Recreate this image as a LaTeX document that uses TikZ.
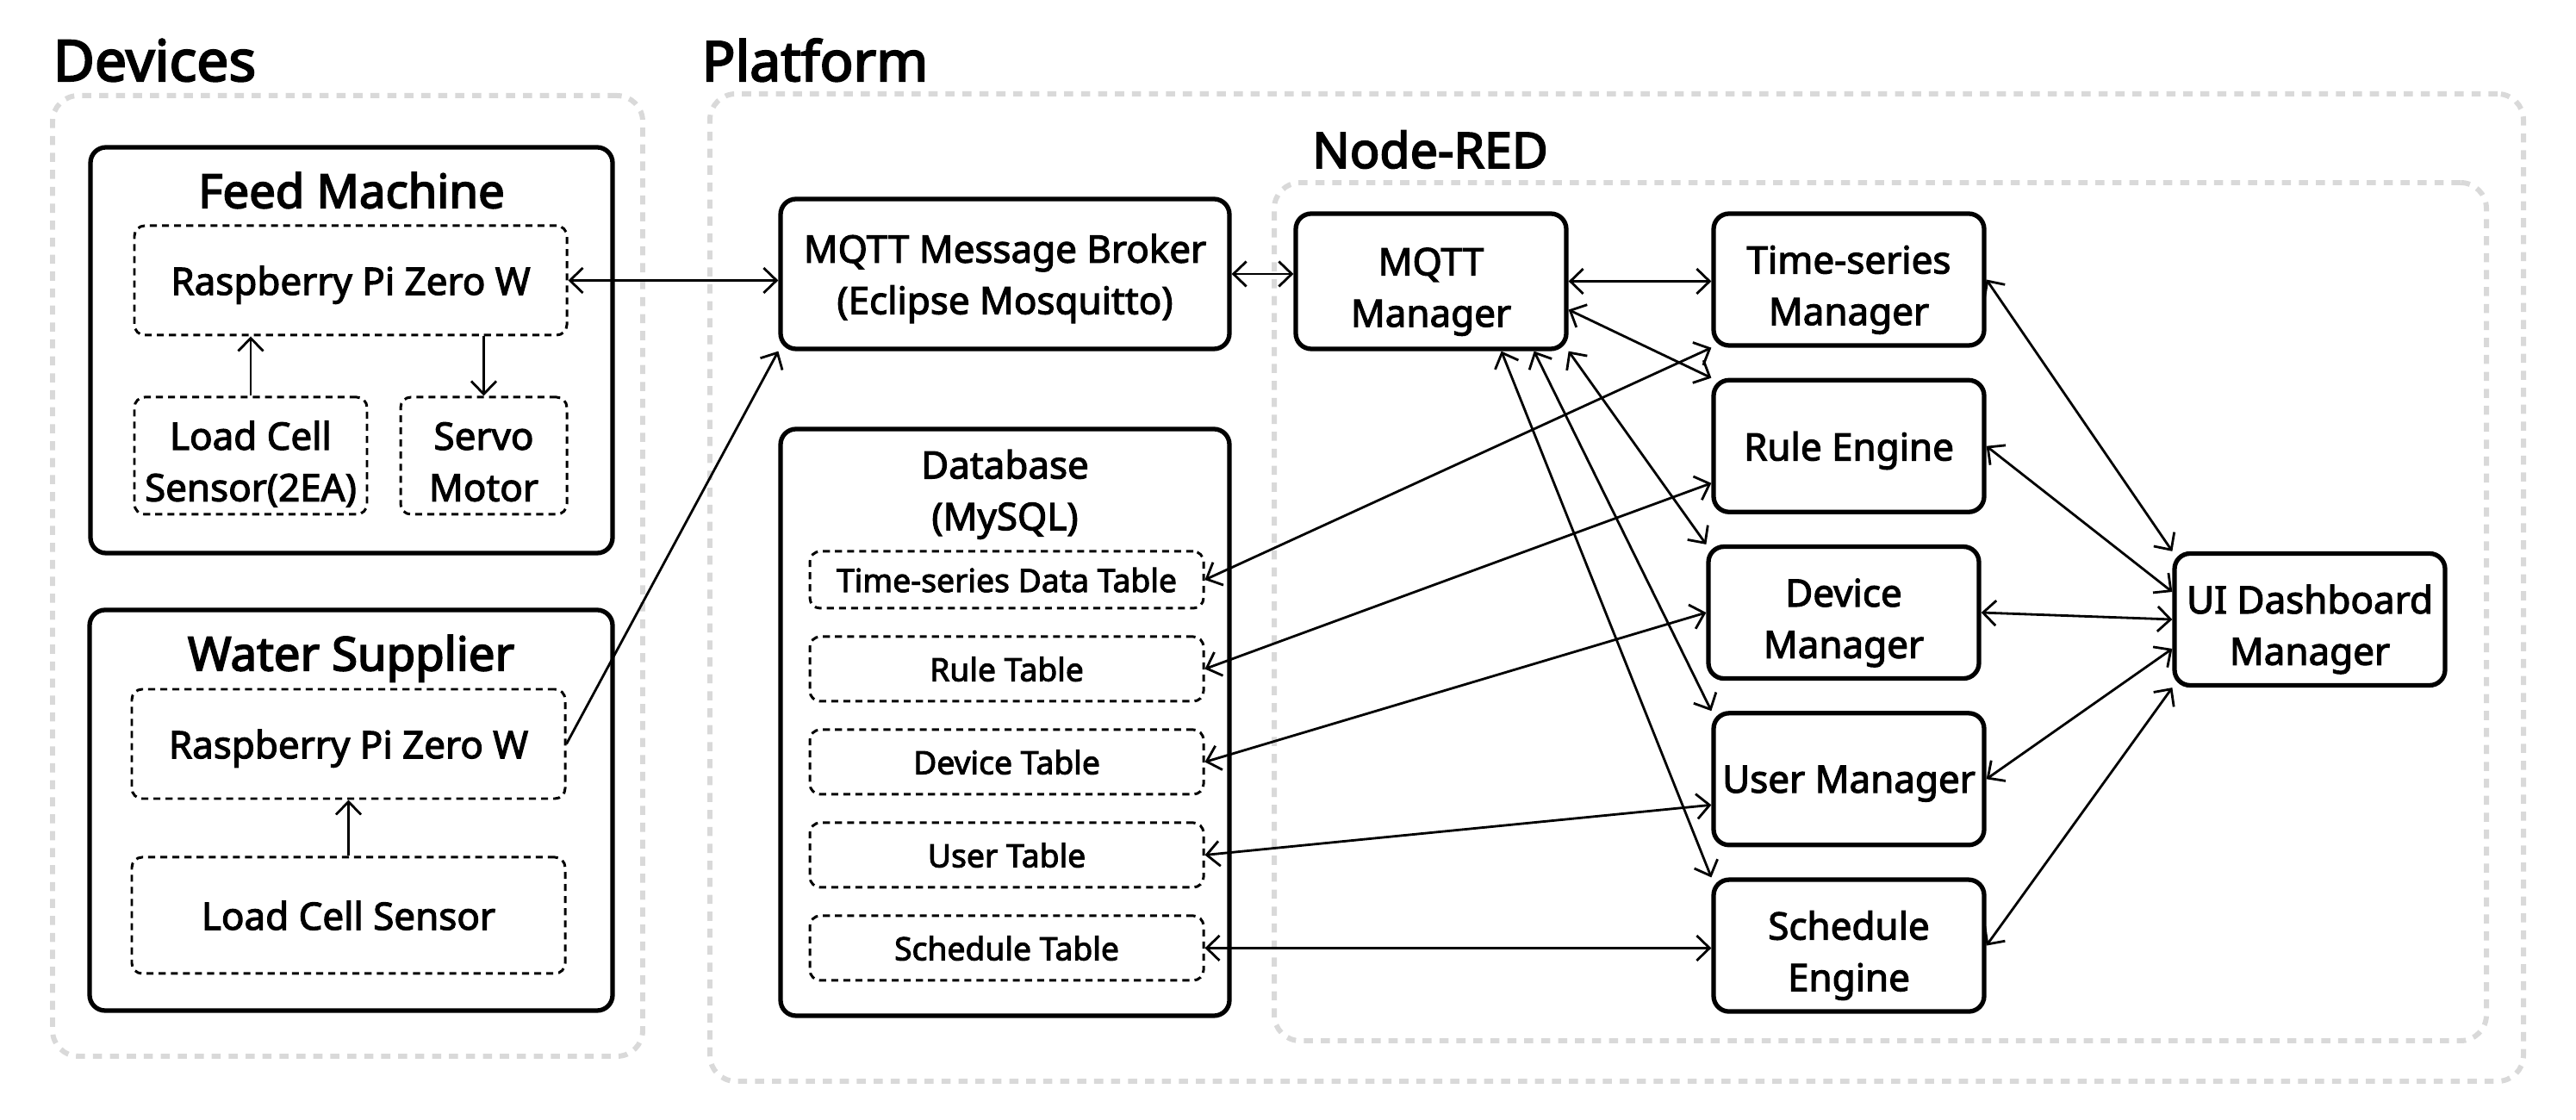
\documentclass[tikz,border=0pt]{standalone}
\usepackage{fontspec}
\setmainfont{Noto Sans}[FakeBold=2.6]
\newfontfamily\headfont{Noto Sans}[FakeBold=3.2]
\usetikzlibrary{arrows.meta,positioning}

\begin{document}
\begin{tikzpicture}[
  node distance=3.5mm,
  >={Straight Barb[length=1.5mm,width=2.9mm]},
  font=\fontsize{12.5}{17}\selectfont,
  area/.style={rectangle, draw=black!15, line width=1.7pt, dash pattern=on 3pt off 2.6pt, rounded corners=3mm},
  grouptitle/.style={font=\headfont\fontsize{18.8}{22}\selectfont, anchor=base west, inner sep=0pt},
  boxtitle/.style={font=\headfont\fontsize{15.5}{18}\selectfont, anchor=base, inner sep=0pt},
  box/.style={rectangle, rounded corners=1.8mm, draw=black, line width=1.5pt, align=center, inner sep=0pt, text depth=0pt},
  devpart/.style={rectangle, rounded corners=1.2mm, draw=black, line width=0.85pt, dash pattern=on 2.3pt off 1.7pt, align=center, inner sep=0pt, text depth=0pt},
  twoline/.style={text height=30pt},
  mgr/.style={box, minimum width=3.14cm, minimum height=1.53cm},
  tbl/.style={devpart, minimum width=4.57cm, minimum height=0.75cm, font=\fontsize{10.6}{13}\selectfont},
  link/.style={<->, line width=0.8pt},
  flow/.style={->, line width=0.8pt}
]
\useasboundingbox (0,0) rectangle (29.9,-13);

% Outer groups
\node[area, minimum width=6.85cm, minimum height=11.15cm] (devices) at (4.035,-6.685) {};
\node[area, minimum width=21.05cm, minimum height=11.46cm] (platform) at (18.765,-6.82) {};
\node[area, minimum width=14.07cm, minimum height=9.96cm] (nodered) at (21.825,-7.1) {};
\node[grouptitle] (devtitle) at (0.61,-0.94) {Devices};
\node[grouptitle, font=\headfont\fontsize{18.3}{22}\selectfont] (plattitle) at (8.14,-0.94) {Platform};
\node[grouptitle, anchor=base, font=\headfont\fontsize{16.3}{19}\selectfont] (nrtitle) at (16.6,-1.95) {Node-RED};

% Feed machine
\node[box, minimum width=6.06cm, minimum height=4.71cm] (feed) at (4.08,-4.065) {};
\node[boxtitle] (feedtitle) at ([yshift=-7.3mm]feed.north) {Feed Machine};
\node[devpart, minimum width=5.02cm, minimum height=1.27cm] (rpiA) at (4.07,-3.255) {Raspberry Pi Zero W};
\node[devpart, twoline, minimum width=2.7cm, minimum height=1.36cm, below right=6.9mm and 0mm of rpiA.south west] (lcA) {Load Cell\\Sensor(2EA)};
\node[devpart, twoline, minimum width=1.93cm, minimum height=1.36cm, below left=6.9mm and 0mm of rpiA.south east] (servo) {Servo\\Motor};

% Water supplier
\node[box, minimum width=6.07cm, minimum height=4.65cm] (water) at (4.075,-9.405) {};
\node[boxtitle] (watertitle) at ([yshift=-7.3mm]water.north) {Water Supplier};
\node[devpart, minimum width=5.03cm, minimum height=1.27cm] (rpiB) at (4.045,-8.635) {Raspberry Pi Zero W};
\node[devpart, minimum width=5.03cm, minimum height=1.35cm, below=6.5mm of rpiB] (lcB) {Load Cell Sensor};

% Broker and database
\node[box, minimum width=5.21cm, minimum height=1.74cm] (broker) at (11.665,-3.18) {MQTT Message Broker\\(Eclipse Mosquitto)};
\node[box, minimum width=5.21cm, minimum height=6.81cm] (database) at (11.665,-8.385) {};
\node[anchor=north, align=center, inner sep=0pt] (dbtitle) at ([yshift=-2.6mm]database.north) {Database\\(MySQL)};
\node[tbl, minimum height=0.66cm] (tstab) at (11.685,-6.73) {Time-series Data Table};
\node[tbl, below=3mm of tstab] (ruletab) {Rule Table};
\node[tbl, below=3mm of ruletab] (devtab) {Device Table};
\node[tbl, below=3mm of devtab] (usertab) {User Table};
\node[tbl, below=3mm of usertab] (schedtab) {Schedule Table};

% Node-RED
\node[mgr, twoline, minimum height=1.57cm] (mqttm) at (16.61,-3.265) {MQTT\\Manager};
\node[mgr, twoline] (tsm) at (21.46,-3.245) {Time-series\\Manager};
\node[mgr, below=of tsm] (rule) {Rule Engine};
\node[mgr, twoline, below=of rule, xshift=-0.06cm] (dev) {Device\\Manager};
\node[mgr, below=of dev, xshift=0.06cm] (user) {User Manager};
\node[mgr, twoline, below=of user] (sched) {Schedule\\Engine};
\node[mgr, twoline] (ui) at (26.81,-7.19) {UI Dashboard\\Manager};

% Inside devices
\draw[flow] (lcA.north) -- (lcA.north |- rpiA.south);
\draw[flow] (servo.north |- rpiA.south) -- (servo.north);
\draw[flow] (lcB) -- (rpiB);

% Devices to platform
\draw[link] (rpiA.east) -- (rpiA.east -| broker.west);
\draw[flow] (rpiB.east) -- (broker.south west);
\draw[link] (broker.east) -- (broker.east -| mqttm.west);

% MQTT manager to managers
\draw[link] (mqttm.east) -- (mqttm.east -| tsm.west);
\draw[link] ([yshift=-3.3mm]mqttm.east) -- (rule.north west);
\draw[link] (mqttm.south east) -- (dev.north west);
\draw[link] ([xshift=-4mm]mqttm.south east) -- (user.north west);
\draw[link] ([xshift=-7.8mm]mqttm.south east) -- (sched.north west);

% Tables to managers
\draw[link] (tstab.east) -- (tsm.south west);
\draw[link] (ruletab.east) -- ([yshift=-4.3mm]rule.west);
\draw[link] (devtab.east) -- (dev.west);
\draw[link] (usertab.east) -- ([yshift=-3mm]user.west);
\draw[link] (schedtab.east) -- (schedtab.east -| sched.west);

% Managers to dashboard
\draw[link] (tsm.east) -- (ui.north west);
\draw[link] (rule.east) -- ([yshift=3.2mm]ui.west);
\draw[link] (dev.east) -- (ui.west);
\draw[link] (user.east) -- ([yshift=-3.4mm]ui.west);
\draw[link] (sched.east) -- (ui.south west);

\end{tikzpicture}
\end{document}
